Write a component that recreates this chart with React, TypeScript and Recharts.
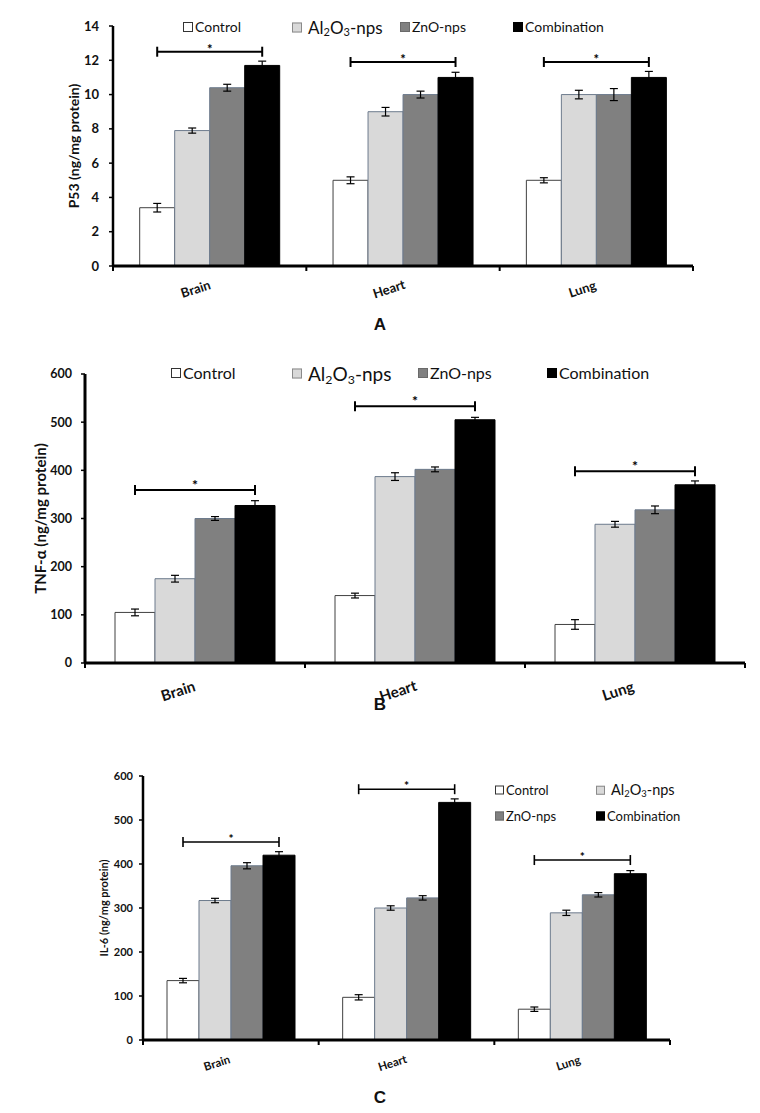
import React from "react";
import { BarChart, Bar, XAxis, YAxis, ErrorBar, Legend, Label } from "recharts";

const organs = ["Brain", "Heart", "Lung"];

// A - P53
const p53Control = [3.4, 5.0, 5.0];
const p53Al = [7.9, 9.0, 10.0];
const p53Zn = [10.4, 10.0, 10.0];
const p53Comb = [11.7, 11.0, 11.0];
const p53ControlErr = [0.25, 0.2, 0.15];
const p53AlErr = [0.15, 0.25, 0.25];
const p53ZnErr = [0.2, 0.2, 0.35];
const p53CombErr = [0.25, 0.3, 0.35];
const p53Sig = [12.5, 11.9, 11.9];
const p53Ticks = [0, 2, 4, 6, 8, 10, 12, 14];

// B - TNF-alpha
const tnfControl = [105, 140, 80];
const tnfAl = [175, 387, 288];
const tnfZn = [300, 402, 318];
const tnfComb = [327, 505, 370];
const tnfControlErr = [7, 5, 10];
const tnfAlErr = [7, 8, 6];
const tnfZnErr = [4, 5, 8];
const tnfCombErr = [10, 5, 8];
const tnfSig = [359, 533, 398];

// C - IL-6
const il6Control = [135, 97, 70];
const il6Al = [317, 300, 289];
const il6Zn = [396, 323, 330];
const il6Comb = [420, 540, 378];
const il6ControlErr = [5, 6, 5];
const il6AlErr = [5, 5, 6];
const il6ZnErr = [7, 5, 5];
const il6CombErr = [8, 8, 7];
const il6Sig = [450, 570, 409];

const hundredTicks = [0, 100, 200, 300, 400, 500, 600];

const SERIES = [
  { key: "control", name: "Control", fill: "#ffffff", stroke: "#404040" },
  { key: "al", name: "Al2O3-nps", fill: "#d9d9d9", stroke: "#6d7b8d" },
  { key: "zn", name: "ZnO-nps", fill: "#808080", stroke: "#6d7b8d" },
  { key: "comb", name: "Combination", fill: "#000000", stroke: "#000000" },
];

const FONT = "Lato, 'Open Sans', sans-serif";

function buildRows(c: number[], a: number[], z: number[], m: number[], ce: number[], ae: number[], ze: number[], me: number[]) {
  return organs.map((organ, i) => ({
    organ,
    control: c[i],
    al: a[i],
    zn: z[i],
    comb: m[i],
    controlErr: ce[i],
    alErr: ae[i],
    znErr: ze[i],
    combErr: me[i],
  }));
}

const rowsA = buildRows(p53Control, p53Al, p53Zn, p53Comb, p53ControlErr, p53AlErr, p53ZnErr, p53CombErr);
const rowsB = buildRows(tnfControl, tnfAl, tnfZn, tnfComb, tnfControlErr, tnfAlErr, tnfZnErr, tnfCombErr);
const rowsC = buildRows(il6Control, il6Al, il6Zn, il6Comb, il6ControlErr, il6AlErr, il6ZnErr, il6CombErr);

// significance bracket drawn on top of the Combination bar, back to the Control bar
const makeBracket = (sig: number[], comb: number[], lw: number, starSize: number, starGap: number) => (props: any) => {
  const vb = props.viewBox || props;
  const { x, y, width, height } = vb;
  const value = Number(props.value);
  let idx = typeof props.index === "number" ? props.index : comb.indexOf(value);
  if (idx < 0) idx = 0;
  if (!height || !value) return null;
  const base = y + height;
  const ly = base - (sig[idx] * height) / value;
  const x2 = x + width / 2;
  const x1 = x2 - 3 * width;
  return (
    <g key={`br-${idx}`}>
      <line x1={x1} x2={x2} y1={ly} y2={ly} stroke="#000" strokeWidth={lw} />
      <line x1={x1} x2={x1} y1={ly - 5} y2={ly + 5} stroke="#000" strokeWidth={lw} />
      <line x1={x2} x2={x2} y1={ly - 5} y2={ly + 5} stroke="#000" strokeWidth={lw} />
      <text x={(x1 + x2) / 2} y={ly + starGap} textAnchor="middle" fontSize={starSize} fontWeight="bold" fontFamily={FONT} fill="#000">
        *
      </text>
    </g>
  );
};

// category label, slanted, plus small tick marks at the category edges
const makeTick = (fontSize: number, dx: number, dy: number) => (props: any) => {
  const { x, y, payload, index, width } = props;
  const half = typeof width === "number" && width > 0 ? width / organs.length / 2 : payload?.offset ?? 0;
  return (
    <g>
      <line x1={x - half} x2={x - half} y1={y} y2={y + 5} stroke="#000" strokeWidth={2} />
      {index === organs.length - 1 && (
        <line x1={x + half} x2={x + half} y1={y} y2={y + 5} stroke="#000" strokeWidth={2} />
      )}
      <text
        transform={`translate(${x + dx},${y + dy}) rotate(-18)`}
        textAnchor="middle"
        dy="0.35em"
        fontSize={fontSize}
        fontWeight="bold"
        fontFamily={FONT}
        fill="#111"
      >
        {payload.value}
      </text>
    </g>
  );
};

const LegendName = ({ name, size, alSize }: any) =>
  name === "Al2O3-nps" ? (
    <span style={{ fontSize: alSize }}>
      Al<sub style={{ fontSize: alSize * 0.65, verticalAlign: "-0.25em", lineHeight: 0 }}>2</sub>O
      <sub style={{ fontSize: alSize * 0.65, verticalAlign: "-0.25em", lineHeight: 0 }}>3</sub>-nps
    </span>
  ) : (
    <span style={{ fontSize: size }}>{name}</span>
  );

const makeLegend = (spots: number[][], size: number, alSize: number, box: number) => (props: any) => {
  const payload = props.payload || [];
  return (
    <div style={{ position: "relative", width: 760, height: 0 }}>
      {payload.map((p: any, i: number) => {
        const s = SERIES.find((d) => d.name === p.value) || SERIES[i];
        const k = SERIES.indexOf(s);
        const [lx, ly] = spots[k];
        return (
          <div
            key={s.key}
            style={{
              position: "absolute",
              left: lx,
              top: ly,
              transform: "translateY(-50%)",
              display: "flex",
              alignItems: "center",
              whiteSpace: "nowrap",
              fontFamily: FONT,
              color: "#111",
              lineHeight: 1,
            }}
          >
            <span
              style={{
                display: "inline-block",
                width: box,
                height: box,
                background: s.fill,
                border: `1px solid ${k === 0 ? "#333" : k === 1 ? "#8a8a8a" : s.fill === "#000000" ? "#000" : "#6a6a6a"}`,
                boxSizing: "border-box",
                marginRight: s.key === "al" ? 6 : 2,
              }}
            />
            <LegendName name={s.name} size={size} alSize={alSize} />
          </div>
        );
      })}
    </div>
  );
};

function Panel(props: any) {
  const {
    top, height, rows, ticks, max, margin, yWidth, tickFont, tickMargin, yLabel, yLabelSize, yLabelDx,
    catFont, catDx, catDy, gap, sig, comb, bracketW, starSize, starGap, legendSpots, legendSize, legendAlSize, legendBox,
    yAxisW,
  } = props;
  return (
    <div style={{ position: "absolute", left: 0, top, width: 760, height }}>
      <BarChart width={760} height={height} data={rows} margin={margin} barGap={0} barCategoryGap={gap}>
        <XAxis
          dataKey="organ"
          interval={0}
          tickLine={false}
          tickSize={0}
          tickMargin={0}
          height={40}
          axisLine={{ stroke: "#000", strokeWidth: 3 }}
          tick={makeTick(catFont, catDx, catDy)}
        />
        <YAxis
          domain={[0, max]}
          ticks={ticks}
          interval={0}
          width={yWidth}
          tickSize={4}
          tickMargin={tickMargin}
          tickLine={{ stroke: "#000", strokeWidth: 1.5 }}
          axisLine={{ stroke: "#000", strokeWidth: yAxisW }}
          tick={{ fill: "#111", fontSize: tickFont, fontWeight: 700, fontFamily: FONT }}
        >
          <Label
            value={yLabel}
            angle={-90}
            position="center"
            dx={yLabelDx}
            style={{ fontWeight: 700, fontSize: yLabelSize, fill: "#111", fontFamily: FONT }}
          />
        </YAxis>
        <Legend
          verticalAlign="middle"
          align="center"
          wrapperStyle={{ position: "absolute", left: 0, top: 0, width: 760, height: 0 }}
          content={makeLegend(legendSpots, legendSize, legendAlSize, legendBox)}
        />
        {SERIES.map((s) => (
          <Bar
            key={s.key}
            dataKey={s.key}
            name={s.name}
            fill={s.fill}
            stroke={s.stroke}
            strokeWidth={1}
            isAnimationActive={false}
            label={s.key === "comb" ? makeBracket(sig, comb, bracketW, starSize, starGap) : undefined}
          >
            <ErrorBar dataKey={`${s.key}Err`} width={4} stroke="#000" strokeWidth={1.2} isAnimationActive={false} />
          </Bar>
        ))}
      </BarChart>
    </div>
  );
}

const letterStyle: React.CSSProperties = {
  position: "absolute",
  left: 0,
  width: 760,
  textAlign: "center",
  fontFamily: "'Liberation Sans', Arial, sans-serif",
  fontWeight: 700,
  fontSize: 17,
  color: "#111",
};

export default function App() {
  return (
    <div style={{ position: "absolute", left: 0, top: 0, width: 760, height: 1113, background: "#fff" }}>
      <Panel
        top={0}
        height={345}
        rows={rowsA}
        ticks={p53Ticks}
        max={14}
        margin={{ top: 26, right: 67, left: 0, bottom: 39 }}
        yWidth={113}
        yAxisW={2.5}
        tickFont={13}
        tickMargin={10}
        yLabel="P53 (ng/mg protein)"
        yLabelSize={14}
        yLabelDx={18}
        catFont={13}
        catDx={-14}
        catDy={23}
        gap={26.7}
        sig={p53Sig}
        comb={p53Comb}
        bracketW={2}
        starSize={13}
        starGap={2}
        legendSpots={[[183, 27], [292, 27], [400, 27], [513, 27]]}
        legendSize={14}
        legendAlSize={17}
        legendBox={10}
      />
      <div style={{ ...letterStyle, top: 315 }}>A</div>
      <Panel
        top={345}
        height={375}
        rows={rowsB}
        ticks={hundredTicks}
        max={600}
        margin={{ top: 29, right: 15, left: 0, bottom: 17 }}
        yWidth={85}
        yAxisW={3}
        tickFont={12.5}
        tickMargin={9}
        yLabel="TNF-α (ng/mg protein)"
        yLabelSize={15}
        yLabelDx={-2}
        catFont={15}
        catDx={-17}
        catDy={28}
        gap={30}
        sig={tnfSig}
        comb={tnfComb}
        bracketW={2}
        starSize={14}
        starGap={0}
        legendSpots={[[171, 28], [292, 28], [418, 28], [547, 28]]}
        legendSize={16}
        legendAlSize={19}
        legendBox={10}
      />
      <div style={{ ...letterStyle, top: 695 }}>B</div>
      <Panel
        top={740}
        height={373}
        rows={rowsC}
        ticks={hundredTicks}
        max={600}
        margin={{ top: 36, right: 90, left: 0, bottom: 33 }}
        yWidth={143}
        yAxisW={2.5}
        tickFont={11}
        tickMargin={6}
        yLabel="IL-6 (ng/mg protein)"
        yLabelSize={11}
        yLabelDx={33}
        catFont={11.5}
        catDx={-14}
        catDy={23}
        gap={24}
        sig={il6Sig}
        comb={il6Comb}
        bracketW={1.6}
        starSize={12}
        starGap={1}
        legendSpots={[[495, 50], [596, 50], [495, 76], [596, 76]]}
        legendSize={13}
        legendAlSize={14.5}
        legendBox={9}
      />
      <div style={{ ...letterStyle, top: 1088 }}>C</div>
    </div>
  );
}
